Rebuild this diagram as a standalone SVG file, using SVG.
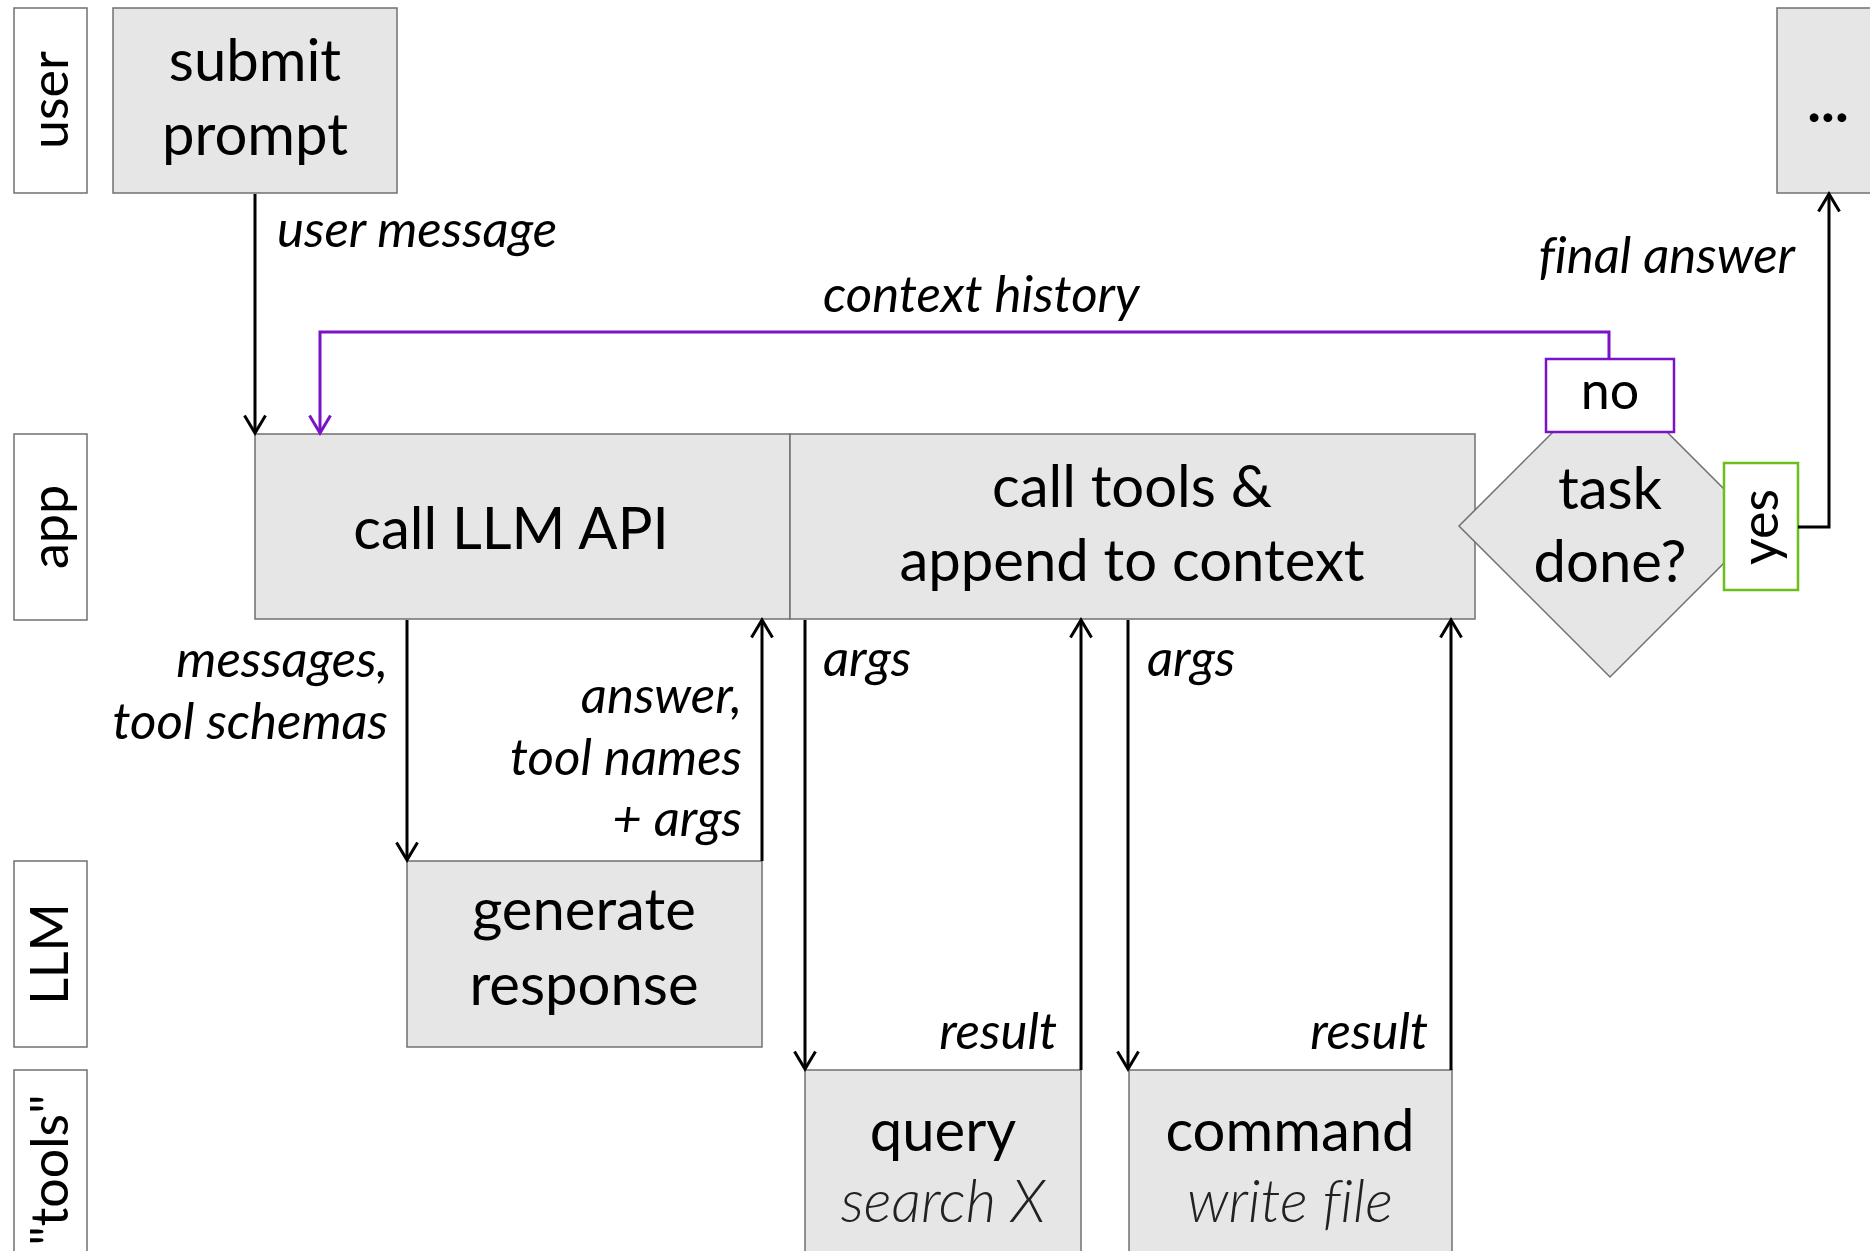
<svg xmlns="http://www.w3.org/2000/svg" width="1870" height="1251" viewBox="0 0 1870 1251">
  <style>
    text { font-variant-ligatures: none; }
    .node { fill: #e6e6e6; stroke: #707070; stroke-width: 1.5; }
    .lane { fill: #ffffff; stroke: #707070; stroke-width: 1.5; }
    .big { font-family: Lato, "Liberation Sans", sans-serif; font-size: 58px; fill: #000; text-anchor: middle; }
    .sub { font-family: Lato, "Liberation Sans", sans-serif; font-size: 59px; font-style: italic; font-weight: 300; fill: #222; text-anchor: middle; }
    .lbl { font-family: Lato, "Liberation Sans", sans-serif; font-size: 51px; font-style: italic; fill: #000; }
    .lanetxt { font-family: Lato, "Liberation Sans", sans-serif; font-size: 52px; fill: #000; text-anchor: middle; }
    .dots { font-family: Lato, "Liberation Sans", sans-serif; font-size: 58px; font-weight: 700; fill: #000; text-anchor: middle; }
    .edge { fill: none; stroke: #000; stroke-width: 3; }
    .edge.loop { stroke: #7a12c8; }
  </style>
  <defs>
    <marker id="arrow" markerUnits="userSpaceOnUse" viewBox="0 0 22 24" markerWidth="22" markerHeight="24" refX="19" refY="12" orient="auto">
      <path d="M1.5,1.5 L19,12 L1.5,22.5" fill="none" stroke="#000" stroke-width="3"/>
    </marker>
    <marker id="arrow-loop" markerUnits="userSpaceOnUse" viewBox="0 0 22 24" markerWidth="22" markerHeight="24" refX="19" refY="12" orient="auto">
      <path d="M1.5,1.5 L19,12 L1.5,22.5" fill="none" stroke="#7a12c8" stroke-width="3"/>
    </marker>
  </defs>

  <!-- swimlane labels -->
  <g id="lane-user">
    <rect class="lane" x="14" y="8" width="73" height="185"/>
    <text class="lanetxt" transform="translate(50,100) rotate(-90)" y="18">user</text>
  </g>
  <g id="lane-app">
    <rect class="lane" x="14" y="434" width="73" height="186"/>
    <text class="lanetxt" transform="translate(50,527) rotate(-90)" y="18">app</text>
  </g>
  <g id="lane-llm">
    <rect class="lane" x="14" y="861" width="73" height="186"/>
    <text class="lanetxt" transform="translate(50,954) rotate(-90)" y="18">LLM</text>
  </g>
  <g id="lane-tools">
    <rect class="lane" x="14" y="1070" width="73" height="200"/>
    <text class="lanetxt" transform="translate(50,1170) rotate(-90)" y="18">"tools"</text>
  </g>

  <!-- process nodes -->
  <g id="submit-prompt">
    <rect class="node" x="113" y="8" width="284" height="185"/>
    <text class="big" x="255" y="81">submit</text>
    <text class="big" x="255" y="155">prompt</text>
  </g>
  <g id="next-step">
    <rect class="node" x="1777" y="8" width="110" height="185"/>
    <text class="dots" x="1828" y="122">...</text>
  </g>
  <g id="call-llm-api">
    <rect class="node" x="255" y="434" width="535" height="185"/>
    <text class="big" x="511" y="549">call LLM API</text>
  </g>
  <g id="call-tools">
    <rect class="node" x="790" y="434" width="685" height="185"/>
    <text class="big" x="1132" y="507">call tools &amp;</text>
    <text class="big" x="1132" y="581">append to context</text>
  </g>
  <g id="task-done">
    <polygon class="node" points="1610,375 1761,526 1610,677 1459,526"/>
    <text class="big" x="1610" y="509">task</text>
    <text class="big" x="1610" y="582">done?</text>
  </g>
  <g id="generate-response">
    <rect class="node" x="407" y="861" width="355" height="186"/>
    <text class="big" x="584" y="930">generate</text>
    <text class="big" x="584" y="1005">response</text>
  </g>
  <g id="tool-query">
    <rect class="node" x="805" y="1070" width="276" height="200"/>
    <text class="big" x="943" y="1151">query</text>
    <text class="sub" x="943" y="1222">search X</text>
  </g>
  <g id="tool-command">
    <rect class="node" x="1129" y="1070" width="323" height="200"/>
    <text class="big" x="1290" y="1151">command</text>
    <text class="sub" x="1290" y="1222">write file</text>
  </g>

  <!-- decision outcome tags -->
  <g id="tag-no">
    <rect x="1546" y="359" width="128" height="73" fill="#fff" stroke="#7a12c8" stroke-width="2.5"/>
    <text class="lanetxt" x="1610" y="409">no</text>
  </g>
  <g id="tag-yes">
    <rect x="1724" y="463" width="74" height="127" fill="#fff" stroke="#6cbf1a" stroke-width="2.5"/>
    <text class="lanetxt" transform="translate(1760,527) rotate(-90)" y="18">yes</text>
  </g>

  <!-- connectors -->
  <g id="connectors">
    <path class="edge" d="M255,194 V433" marker-end="url(#arrow)"/>
    <path class="edge loop" d="M1609,359 V332 H320 V433" marker-end="url(#arrow-loop)"/>
    <path class="edge" d="M407,620 V860" marker-end="url(#arrow)"/>
    <path class="edge" d="M762,861 V620" marker-end="url(#arrow)"/>
    <path class="edge" d="M805,620 V1069" marker-end="url(#arrow)"/>
    <path class="edge" d="M1081,1070 V620" marker-end="url(#arrow)"/>
    <path class="edge" d="M1128,620 V1069" marker-end="url(#arrow)"/>
    <path class="edge" d="M1451,1070 V620" marker-end="url(#arrow)"/>
    <path class="edge" d="M1798,527 H1829 V194" marker-end="url(#arrow)"/>
  </g>

  <!-- connector labels -->
  <g id="edge-labels">
    <text class="lbl" x="277" y="247">user message</text>
    <text class="lbl" x="823" y="312">context history</text>
    <text class="lbl" x="1795" y="273" text-anchor="end">final answer</text>
    <text class="lbl" x="388" y="677" text-anchor="end">messages,</text>
    <text class="lbl" x="388" y="739" text-anchor="end">tool schemas</text>
    <text class="lbl" x="742" y="713" text-anchor="end">answer,</text>
    <text class="lbl" x="742" y="775" text-anchor="end">tool names</text>
    <text class="lbl" x="742" y="836" text-anchor="end">+ args</text>
    <text class="lbl" x="823" y="676">args</text>
    <text class="lbl" x="1147" y="676">args</text>
    <text class="lbl" x="1057" y="1049" text-anchor="end">result</text>
    <text class="lbl" x="1428" y="1049" text-anchor="end">result</text>
  </g>
</svg>
